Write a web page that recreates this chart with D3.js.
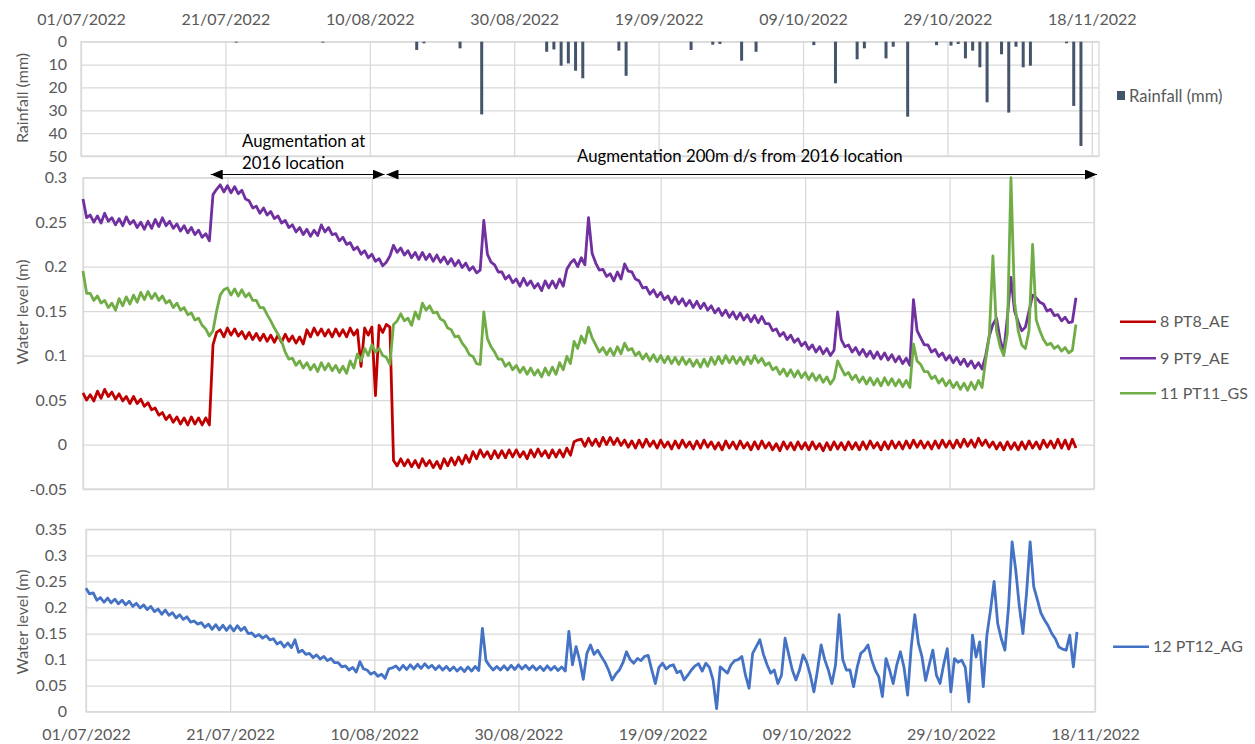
<!DOCTYPE html>
<html>
<head>
<meta charset="utf-8" />
<title>Rainfall and water level</title>
<script src="https://cdn.jsdelivr.net/npm/d3@7"></script>
<style>
body { margin:0; background:#fff; }
svg text { font-family: Lato, "Open Sans", sans-serif; }
.tick text { fill:#595959; font-size:16px; }
.grid line { stroke:#d9d9d9; stroke-width:1.3px; }
.grid path { display:none; }
.wl { fill:none; stroke-width:2.8px; stroke-linejoin:round; }
.lab { fill:#595959; font-size:16px; }
.note { fill:#000; font-size:16.8px; }
</style>
</head>
<body>
<div id="chart"></div>
<script>
var width = 1255, height = 744;

// x axis tick labels (every 20 days)
var tickDates = ["01/07/2022","21/07/2022","10/08/2022","30/08/2022","19/09/2022","09/10/2022","29/10/2022","18/11/2022"];

// daily rainfall
var rainDates = ["22/07/2022","03/08/2022","16/08/2022","17/08/2022","22/08/2022","25/08/2022","03/09/2022","04/09/2022",
  "05/09/2022","06/09/2022","07/09/2022","08/09/2022","13/09/2022","14/09/2022","23/09/2022","26/09/2022","27/09/2022",
  "30/09/2022","02/10/2022","10/10/2022","13/10/2022","16/10/2022","17/10/2022","20/10/2022","21/10/2022","23/10/2022",
  "27/10/2022","29/10/2022","30/10/2022","31/10/2022","01/11/2022","02/11/2022","03/11/2022","05/11/2022","06/11/2022",
  "07/11/2022","08/11/2022","09/11/2022","14/11/2022","15/11/2022","16/11/2022"];
var rainMm = [0.4,0.4,3.6,0.7,2.9,31.8,4.4,3.4,
  10.5,9.5,12.7,16,3.9,14.9,3.6,1.3,1.0,
  8.3,4.4,1.5,18.2,7.7,2.9,7.3,2.2,32.8,
  1.5,1.7,1.0,7.3,3.9,11.2,26.5,5.5,31,
  2.2,11.2,10.5,0.7,28.1,45.6];

// water level readings, every 12 hours from the start date (m)
var seriesStart = "01/07/2022";
var pt8 = [
 0.058,0.050, 0.056,0.049, 0.060,0.052, 0.062,0.054, 0.059,0.051, 0.057,0.049, 0.054,0.046, 0.054,0.046, 0.051,0.043, 0.047,0.039,
 0.041,0.033, 0.036,0.028, 0.033,0.025, 0.031,0.023, 0.030,0.022, 0.031,0.023, 0.030,0.022, 0.030,0.022, 0.112,0.126, 0.129,0.121,
 0.131,0.123, 0.130,0.122, 0.127,0.119, 0.126,0.118, 0.125,0.117, 0.124,0.116, 0.123,0.115, 0.123,0.115, 0.124,0.116, 0.122,0.114,
 0.121,0.113, 0.129,0.121, 0.131,0.123, 0.130,0.122, 0.129,0.121, 0.130,0.122, 0.129,0.121, 0.131,0.123, 0.129,0.088, 0.131,0.123,
 0.132,0.055, 0.134,0.126, 0.135,0.132, -0.018,-0.024, -0.016,-0.024, -0.017,-0.025, -0.018,-0.026, -0.016,-0.024, -0.018,-0.026, -0.019,-0.027,
 -0.016,-0.024, -0.015,-0.023, -0.014,-0.022, -0.012,-0.020, -0.008,-0.016, -0.006,-0.014, -0.008,-0.016, -0.007,-0.015, -0.007,-0.015, -0.006,-0.014,
 -0.006,-0.014, -0.008,-0.016, -0.006,-0.014, -0.005,-0.013, -0.007,-0.015, -0.006,-0.014, -0.006,-0.014, -0.004,-0.012, 0.003,0.005, 0.006,-0.002,
 0.007,-0.001, 0.006,-0.002, 0.008,0.000, 0.008,0.000, 0.007,-0.001, 0.005,-0.003, 0.004,-0.004, 0.005,-0.003, 0.006,-0.002, 0.004,-0.004,
 0.005,-0.003, 0.003,-0.005, 0.004,-0.004, 0.005,-0.003, 0.003,-0.005, 0.004,-0.004, 0.005,-0.003, 0.003,-0.005, 0.002,-0.006, 0.004,-0.004,
 0.003,-0.005, 0.004,-0.004, 0.002,-0.006, 0.003,-0.005, 0.004,-0.004, 0.002,-0.006, 0.001,-0.007, 0.003,-0.005, 0.002,-0.006, 0.003,-0.005,
 0.002,-0.006, 0.003,-0.005, 0.001,-0.007, 0.002,-0.006, 0.003,-0.005, 0.002,-0.006, 0.003,-0.005, 0.002,-0.006, 0.003,-0.005, 0.004,-0.004,
 0.002,-0.006, 0.003,-0.005, 0.004,-0.004, 0.003,-0.005, 0.004,-0.004, 0.005,-0.003, 0.004,-0.004, 0.003,-0.005, 0.004,-0.004, 0.005,-0.003,
 0.004,-0.004, 0.005,-0.003, 0.006,-0.002, 0.005,-0.003, 0.007,-0.001, 0.005,-0.003, 0.003,-0.005, 0.002,-0.006, 0.003,-0.005, 0.002,-0.006,
 0.003,-0.005, 0.004,-0.004, 0.003,-0.005, 0.005,-0.003, 0.004,-0.004, 0.006,-0.004, 0.005,-0.005, 0.006,-0.004
];
var pt9 = [
 0.276,0.255, 0.258,0.250, 0.257,0.249, 0.260,0.251, 0.255,0.247, 0.254,0.246, 0.256,0.248, 0.252,0.244, 0.250,0.242, 0.251,0.243,
 0.253,0.245, 0.255,0.246, 0.251,0.243, 0.248,0.240, 0.246,0.238, 0.244,0.236, 0.241,0.233, 0.237,0.229, 0.281,0.287, 0.292,0.284,
 0.291,0.283, 0.290,0.282, 0.286,0.276, 0.274,0.266, 0.268,0.260, 0.266,0.258, 0.262,0.254, 0.257,0.249, 0.252,0.244, 0.247,0.239,
 0.244,0.236, 0.242,0.234, 0.241,0.235, 0.247,0.239, 0.244,0.236, 0.237,0.229, 0.233,0.225, 0.227,0.219, 0.222,0.214, 0.218,0.210,
 0.214,0.206, 0.209,0.201, 0.205,0.212, 0.224,0.216, 0.221,0.213, 0.218,0.210, 0.216,0.208, 0.216,0.208, 0.214,0.206, 0.213,0.205,
 0.211,0.203, 0.209,0.201, 0.207,0.199, 0.204,0.196, 0.200,0.193, 0.196,0.252, 0.214,0.205, 0.202,0.194, 0.194,0.186, 0.190,0.182,
 0.186,0.178, 0.187,0.179, 0.184,0.176, 0.181,0.173, 0.184,0.176, 0.184,0.176, 0.186,0.178, 0.197,0.204, 0.208,0.200, 0.210,0.202,
 0.255,0.215, 0.204,0.196, 0.197,0.189, 0.192,0.184, 0.194,0.186, 0.203,0.195, 0.194,0.186, 0.184,0.176, 0.177,0.169, 0.174,0.166,
 0.171,0.163, 0.167,0.159, 0.166,0.158, 0.164,0.156, 0.162,0.154, 0.161,0.153, 0.159,0.151, 0.156,0.148, 0.153,0.145, 0.151,0.143,
 0.149,0.141, 0.148,0.140, 0.146,0.138, 0.145,0.137, 0.144,0.136, 0.136,0.128, 0.130,0.122, 0.126,0.118, 0.123,0.115, 0.119,0.111,
 0.115,0.107, 0.112,0.104, 0.110,0.102, 0.108,0.100, 0.106,0.149, 0.118,0.110, 0.112,0.104, 0.109,0.101, 0.107,0.099, 0.105,0.097,
 0.104,0.096, 0.103,0.095, 0.101,0.093, 0.099,0.091, 0.097,0.089, 0.163,0.128, 0.120,0.112, 0.112,0.104, 0.107,0.099, 0.103,0.095,
 0.100,0.092, 0.098,0.090, 0.096,0.088, 0.094,0.086, 0.092,0.085, 0.100,0.122, 0.135,0.142, 0.118,0.104, 0.143,0.188, 0.150,0.138,
 0.128,0.132, 0.150,0.168, 0.165,0.160, 0.158,0.150, 0.152,0.145, 0.146,0.139, 0.143,0.137, 0.138,0.165
];
var pt11 = [
 0.195,0.170, 0.170,0.162, 0.167,0.159, 0.162,0.154, 0.159,0.151, 0.164,0.156, 0.166,0.158, 0.168,0.160, 0.171,0.163, 0.172,0.164,
 0.170,0.162, 0.167,0.159, 0.162,0.154, 0.159,0.151, 0.154,0.146, 0.148,0.140, 0.142,0.134, 0.130,0.122, 0.128,0.150, 0.168,0.174,
 0.176,0.168, 0.175,0.167, 0.174,0.166, 0.170,0.162, 0.162,0.154, 0.154,0.146, 0.139,0.131, 0.124,0.116, 0.104,0.096, 0.097,0.089,
 0.094,0.086, 0.092,0.084, 0.090,0.082, 0.092,0.084, 0.091,0.083, 0.089,0.081, 0.088,0.080, 0.094,0.086, 0.102,0.094, 0.108,0.100,
 0.112,0.104, 0.108,0.100, 0.098,0.090, 0.135,0.139, 0.147,0.139, 0.142,0.134, 0.149,0.141, 0.159,0.151, 0.156,0.148, 0.149,0.141,
 0.139,0.131, 0.129,0.121, 0.122,0.114, 0.109,0.101, 0.099,0.091, 0.090,0.149, 0.119,0.110, 0.104,0.096, 0.096,0.088, 0.092,0.084,
 0.089,0.081, 0.087,0.079, 0.086,0.078, 0.084,0.076, 0.086,0.078, 0.087,0.079, 0.092,0.084, 0.099,0.091, 0.116,0.108, 0.122,0.114,
 0.132,0.120, 0.112,0.104, 0.109,0.101, 0.108,0.100, 0.110,0.102, 0.114,0.106, 0.108,0.100, 0.104,0.096, 0.102,0.094, 0.101,0.093,
 0.100,0.092, 0.099,0.091, 0.098,0.090, 0.098,0.090, 0.096,0.088, 0.095,0.087, 0.096,0.088, 0.098,0.090, 0.099,0.091, 0.100,0.092,
 0.099,0.091, 0.098,0.090, 0.099,0.091, 0.100,0.092, 0.097,0.089, 0.092,0.084, 0.087,0.079, 0.085,0.077, 0.084,0.076, 0.083,0.075,
 0.081,0.073, 0.080,0.072, 0.078,0.070, 0.076,0.068, 0.074,0.094, 0.086,0.078, 0.081,0.073, 0.078,0.070, 0.076,0.068, 0.075,0.067,
 0.074,0.066, 0.075,0.067, 0.074,0.066, 0.073,0.065, 0.072,0.064, 0.113,0.094, 0.090,0.082, 0.082,0.074, 0.077,0.069, 0.074,0.066,
 0.072,0.064, 0.070,0.062, 0.069,0.061, 0.070,0.062, 0.072,0.064, 0.095,0.122, 0.212,0.128, 0.110,0.100, 0.125,0.300, 0.160,0.128,
 0.112,0.108, 0.128,0.225, 0.140,0.128, 0.118,0.112, 0.114,0.108, 0.111,0.105, 0.109,0.103, 0.106,0.135
];
var pt12 = [
 0.237,0.226, 0.228,0.214, 0.219,0.210, 0.218,0.209, 0.216,0.207, 0.214,0.205, 0.212,0.202, 0.208,0.199, 0.205,0.196, 0.202,0.192,
 0.197,0.187, 0.195,0.185, 0.190,0.180, 0.186,0.177, 0.182,0.172, 0.174,0.168, 0.171,0.162, 0.168,0.158, 0.167,0.157, 0.166,0.156,
 0.165,0.155, 0.165,0.156, 0.162,0.150, 0.151,0.144, 0.148,0.141, 0.146,0.138, 0.140,0.130, 0.134,0.124, 0.132,0.123, 0.138,0.114,
 0.118,0.110, 0.112,0.104, 0.109,0.101, 0.106,0.098, 0.102,0.094, 0.094,0.086, 0.088,0.080, 0.085,0.076, 0.096,0.082, 0.080,0.072,
 0.076,0.068, 0.072,0.064, 0.082,0.084, 0.088,0.080, 0.089,0.081, 0.090,0.082, 0.091,0.083, 0.092,0.084, 0.089,0.081, 0.088,0.080,
 0.087,0.079, 0.086,0.078, 0.085,0.077, 0.086,0.078, 0.087,0.079, 0.160,0.098, 0.088,0.080, 0.087,0.080, 0.088,0.080, 0.089,0.081,
 0.090,0.082, 0.089,0.081, 0.088,0.080, 0.087,0.079, 0.088,0.080, 0.087,0.079, 0.086,0.078, 0.154,0.090, 0.125,0.098, 0.062,0.112,
 0.128,0.110, 0.118,0.106, 0.095,0.080, 0.061,0.072, 0.080,0.094, 0.115,0.100, 0.093,0.102, 0.098,0.106, 0.108,0.080, 0.054,0.085,
 0.093,0.082, 0.088,0.090, 0.075,0.078, 0.061,0.070, 0.080,0.088, 0.092,0.078, 0.093,0.085, 0.061,0.006, 0.086,0.080, 0.074,0.090,
 0.098,0.100, 0.106,0.070, 0.045,0.112, 0.125,0.138, 0.110,0.090, 0.074,0.080, 0.054,0.070, 0.141,0.110, 0.080,0.061, 0.080,0.109,
 0.095,0.070, 0.038,0.080, 0.128,0.100, 0.080,0.054, 0.090,0.186, 0.100,0.080, 0.080,0.048, 0.085,0.112, 0.118,0.128, 0.100,0.080,
 0.067,0.029, 0.102,0.080, 0.054,0.090, 0.115,0.085, 0.032,0.124, 0.186,0.131, 0.105,0.060, 0.090,0.118, 0.070,0.054, 0.090,0.121,
 0.038,0.102, 0.095,0.099, 0.085,0.019, 0.147,0.105, 0.134,0.048, 0.147,0.195, 0.250,0.169, 0.140,0.118, 0.200,0.326, 0.272,0.202,
 0.150,0.227, 0.326,0.240, 0.215,0.189, 0.176,0.165, 0.150,0.140, 0.124,0.120, 0.118,0.147, 0.086,0.153
];

var parseDay = d3.utcParse("%d/%m/%Y");
var fmtDay = d3.utcFormat("%d/%m/%Y");
var t0 = parseDay(seriesStart);
var ticks = tickDates.map(parseDay);

function readingTime(i) { return d3.utcHour.offset(t0, 12 * i); }

var svg = d3.select("#chart")
  .append("svg")
  .attr("width", width)
  .attr("height", height);

// plot areas of the three stacked charts
var pRain = {left:81, right:1099, top:41.7, bottom:156, end:"19/11/2022"};
var pMid = {left:83, right:1094, top:177.7, bottom:489, end:"18/11/2022"};
var pLow = {left:86, right:1095, top:529.3, bottom:711.7, end:"18/11/2022"};

function xScale(p) {
  return d3.scaleUtc().domain([t0, parseDay(p.end)]).range([p.left, p.right]);
}

function frame(p, x, y, yTicks) {
  var g = svg.append("g");
  g.append("g").attr("class", "grid")
    .attr("transform", "translate(" + p.left + ",0)")
    .call(d3.axisLeft(y).tickValues(yTicks).tickSize(-(p.right - p.left)).tickFormat(""));
  g.append("g").attr("class", "grid")
    .attr("transform", "translate(0," + p.bottom + ")")
    .call(d3.axisBottom(x).tickValues(ticks).tickSize(-(p.bottom - p.top)).tickFormat(""));
  g.append("rect")
    .attr("x", p.left).attr("y", p.top)
    .attr("width", p.right - p.left).attr("height", p.bottom - p.top)
    .attr("fill", "none").attr("stroke", "#d9d9d9").attr("stroke-width", 1.3);
  g.append("g")
    .attr("transform", "translate(" + p.left + ",0)")
    .call(d3.axisLeft(y).tickValues(yTicks).tickSize(0).tickPadding(p.left - 67).tickFormat(function(d){ return String(d); }))
    .call(function(a){ a.select(".domain").remove(); });
  return g;
}

function yTitle(txt, cy) {
  svg.append("text").attr("class", "lab")
    .attr("transform", "translate(28," + cy + ") rotate(-90)")
    .attr("text-anchor", "middle")
    .text(txt);
}

// ---- rainfall (top) ----
var xr = xScale(pRain);
var yr = d3.scaleLinear().domain([0, 50]).range([pRain.top, pRain.bottom]);
frame(pRain, xr, yr, [0, 10, 20, 30, 40, 50]);

svg.append("g")
  .attr("transform", "translate(0," + pRain.top + ")")
  .call(d3.axisTop(xr).tickValues(ticks).tickSize(0).tickPadding(17).tickFormat(fmtDay))
  .call(function(a){ a.select(".domain").remove(); });

svg.append("g").selectAll("rect")
  .data(rainMm)
  .enter()
  .append("rect")
  .attr("x", function(d, i){ return xr(d3.utcHour.offset(parseDay(rainDates[i]), 12)) - 1.5; })
  .attr("y", yr(0))
  .attr("width", 3)
  .attr("height", function(d){ return yr(d) - yr(0); })
  .attr("fill", "#44546a");

yTitle("Rainfall (mm)", 98);

svg.append("rect").attr("x", 1117).attr("y", 91).attr("width", 8).attr("height", 9).attr("fill", "#44546a");
svg.append("text").attr("class", "lab").attr("x", 1129).attr("y", 101.5).style("font-size", "16.6px").text("Rainfall (mm)");

// ---- water level, PT8 / PT9 / PT11 (middle) ----
var xm = xScale(pMid);
var ym = d3.scaleLinear().domain([-0.05, 0.3]).range([pMid.bottom, pMid.top]);
frame(pMid, xm, ym, [-0.05, 0, 0.05, 0.1, 0.15, 0.2, 0.25, 0.3]);

var midSeries = [
  {name:"8 PT8_AE", values:pt8, color:"#c00000"},
  {name:"9 PT9_AE", values:pt9, color:"#7030a0"},
  {name:"11 PT11_GS", values:pt11, color:"#70ad47"}
];

var lineMid = d3.line()
  .x(function(d, i){ return xm(readingTime(i)); })
  .y(function(d){ return ym(d); });

svg.append("g").selectAll("path")
  .data(midSeries)
  .enter()
  .append("path")
  .attr("class", "wl")
  .attr("stroke", function(d){ return d.color; })
  .attr("d", function(d){ return lineMid(d.values); });

var legMid = svg.append("g").selectAll("g")
  .data(midSeries)
  .enter()
  .append("g")
  .attr("transform", function(d, i){ return "translate(1120," + [321.7, 358.3, 393.3][i] + ")"; });
legMid.append("line").attr("x1", 0).attr("x2", 36).attr("y1", 0).attr("y2", 0)
  .attr("stroke", function(d){ return d.color; }).attr("stroke-width", 2.6);
legMid.append("text").attr("class", "lab").attr("x", 40).attr("y", 5.5)
  .text(function(d){ return d.name; });

yTitle("Water level (m)", 312);

// augmentation annotations
var defs = svg.append("defs");
defs.append("marker")
  .attr("id", "tri")
  .attr("markerUnits", "userSpaceOnUse")
  .attr("markerWidth", 12).attr("markerHeight", 10)
  .attr("refX", 12).attr("refY", 5)
  .attr("orient", "auto-start-reverse")
  .append("path").attr("d", "M0,0 L12,5 L0,10 Z").attr("fill", "#000");

var spans = [
  {from:xm(parseDay("18/07/2022")) + 5, to:xm(parseDay("13/08/2022")) - 9},
  {from:xm(parseDay("13/08/2022")) - 7, to:pMid.right + 3}
];
svg.append("g").selectAll("line")
  .data(spans)
  .enter()
  .append("line")
  .attr("x1", function(d){ return d.from; })
  .attr("x2", function(d){ return d.to; })
  .attr("y1", 174.5).attr("y2", 174.5)
  .attr("stroke", "#000").attr("stroke-width", 1)
  .attr("marker-start", "url(#tri)")
  .attr("marker-end", "url(#tri)");

svg.append("text").attr("class", "note").attr("x", 242).attr("y", 147).text("Augmentation at");
svg.append("text").attr("class", "note").attr("x", 242).attr("y", 169).text("2016 location");
svg.append("text").attr("class", "note").attr("x", 577).attr("y", 162).text("Augmentation 200m d/s from 2016 location");

// ---- water level, PT12 (bottom) ----
var xl = xScale(pLow);
var yl = d3.scaleLinear().domain([0, 0.35]).range([pLow.bottom, pLow.top]);
frame(pLow, xl, yl, [0, 0.05, 0.1, 0.15, 0.2, 0.25, 0.3, 0.35]);

svg.append("g")
  .attr("transform", "translate(0," + pLow.bottom + ")")
  .call(d3.axisBottom(xl).tickValues(ticks).tickSize(0).tickPadding(17).tickFormat(fmtDay))
  .call(function(a){ a.select(".domain").remove(); });

var lineLow = d3.line()
  .x(function(d, i){ return xl(readingTime(i)); })
  .y(function(d){ return yl(d); });

svg.append("path")
  .attr("class", "wl")
  .attr("stroke", "#4472c4")
  .attr("d", lineLow(pt12));

svg.append("line").attr("x1", 1113).attr("x2", 1149).attr("y1", 646.7).attr("y2", 646.7)
  .attr("stroke", "#4472c4").attr("stroke-width", 2.6);
svg.append("text").attr("class", "lab").attr("x", 1153).attr("y", 652.2).text("12 PT12_AG");

yTitle("Water level (m)", 622);
</script>
</body>
</html>
